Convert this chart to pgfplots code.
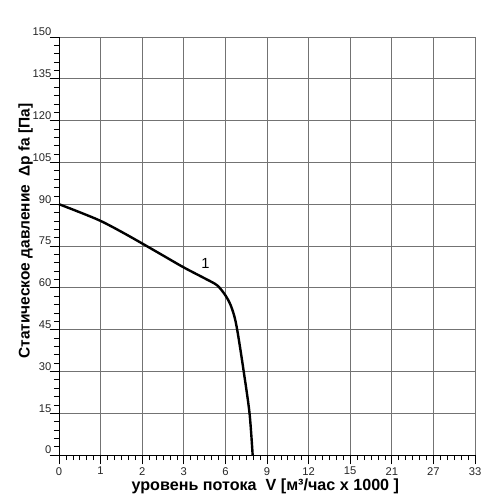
\documentclass[border=0pt]{standalone}
\usepackage{pgfplots}
\pgfplotsset{compat=1.18}
\usepackage{fontspec}
\setmainfont{Liberation Sans}

\begin{document}
\begin{tikzpicture}
\useasboundingbox (0pt,0pt) rectangle (375pt,374.25pt);
% x axis is stepped: 0,1,2,3 then 6,9,12,15 then 21,27,33 at equal spacing,
% so the curve is given in tick-index coordinates (index 4 = 6, index 5 = 9)
\begin{axis}[
  at={(44.25pt,33pt)}, anchor=south west,
  scale only axis, width=312pt, height=313.5pt,
  xmin=0, xmax=10, ymin=0, ymax=150,
  axis lines*=left,
  axis line style={black, line width=0.6pt},
  xtick={0,...,10},
  xticklabels={0,1,2,3,6,9,12,15,21,27,33},
  ytick={0,15,...,150},
  minor x tick num=5, minor y tick num=4,
  tick align=outside,
  major tick length=7pt, minor tick length=3.8pt,
  tick style={black, line width=0.5pt},
  grid=major,
  major grid style={black!55, line width=0.6pt},
  tick label style={font=\fontsize{8.4}{9}\selectfont, text=black!85},
  /pgf/number format/assume math mode=true,
  yticklabel style={anchor=south east, inner sep=0.5pt, xshift=2pt},
  xticklabel style={inner sep=1pt, yshift=-1pt},
  xlabel={уровень потока\ \ V [м³/час x 1000 ]},
  ylabel={Статическое давление\ \ Δp fa [Па]},
  xlabel style={font=\bfseries\fontsize{12.1}{14}\selectfont,
    at={(axis description cs:0.496,-0.075)}, anchor=center},
  ylabel style={font=\bfseries\fontsize{11.6}{14}\selectfont,
    at={(axis description cs:-0.080,0.536)}, anchor=center},
  clip=false,
]
\addplot[black, line width=1.8pt, smooth, tension=0.5] coordinates {
  (0,90) (0.5,87.1) (1,84.0) (1.5,80.1) (2,75.9) (2.5,71.6) (3,67.3)
  (3.5,63.4) (3.8,60.9) (4.0,57.3) (4.12,54.0) (4.22,49.5) (4.3,43.5)
  (4.44,30.0) (4.58,15.0) (4.655,0)
};
\node[font=\fontsize{11}{13}\selectfont] at (axis cs:3.52,68.7) {1};
\end{axis}
\end{tikzpicture}
\end{document}
